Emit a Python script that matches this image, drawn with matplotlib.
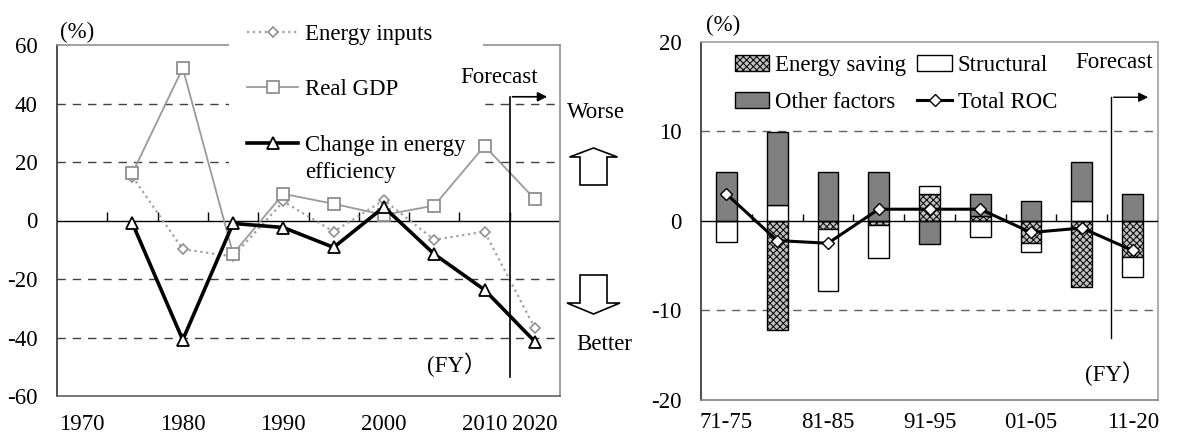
import numpy as np
import matplotlib
matplotlib.use("Agg")
import matplotlib.pyplot as plt
from matplotlib.patches import FancyArrow, Patch
from matplotlib.lines import Line2D

plt.rcParams['font.family'] = ['Liberation Serif', 'Noto Sans CJK JP']
plt.rcParams['hatch.linewidth'] = 0.7
FS = 16.5

# ---------------- data: left panel ----------------
years = ['1970', '1975', '1980', '1985', '1990', '1995', '2000', '2005', '2010', '2020']
year_labels = ['1970', '', '1980', '', '1990', '', '2000', '', '2010', '2020']
energy_inputs = [np.nan, 15.0, -9.8, -12.3, 6.5, -3.8, 7.0, -6.6, -3.8, -36.8]
real_gdp = [np.nan, 16.2, 52.1, -11.4, 9.1, 5.7, 1.9, 5.1, 25.5, 7.3]
efficiency = [np.nan, -1.0, -40.8, -1.0, -2.4, -9.2, 4.6, -11.5, -23.7, -41.4]

# ---------------- data: right panel ----------------
periods = ['71-75', '76-80', '81-85', '86-90', '91-95', '96-00', '01-05', '06-10', '11-20']
period_labels = ['71-75', '', '81-85', '', '91-95', '', '01-05', '', '11-20']
energy_saving = [0.0, -12.2, -0.9, -0.5, 3.0, 0.5, -2.5, -7.4, -4.0]
structural = [-2.4, 1.8, -6.9, -3.7, 0.9, -1.8, -1.0, 2.2, -2.3]
other_factors = [5.4, 8.1, 5.4, 5.4, -2.6, 2.5, 2.2, 4.4, 3.0]
total_roc = [3.0, -2.2, -2.5, 1.3, 1.3, 1.3, -1.3, -0.8, -3.3]

W, H = 1181, 441
fig = plt.figure(figsize=(W / 100, H / 100), dpi=100)

def px_rect(x0, y0, x1, y1):
    return [x0 / W, 1 - y1 / H, (x1 - x0) / W, (y1 - y0) / H]

HATCH_FC = '#c0c0c0'

# =============== LEFT PANEL ===============
ax = fig.add_axes(px_rect(57, 45, 560, 396))
x = np.arange(len(years))
ax.set_xlim(-0.5, len(years) - 0.5)
ax.set_ylim(-60, 60)
ax.set_yticks(np.arange(-60, 61, 20))
ax.set_yticklabels([str(v) for v in range(-60, 61, 20)], fontsize=FS)
ax.set_xticks(x)
ax.set_xticklabels(year_labels, fontsize=FS)
ax.tick_params(axis='both', length=0)
ax.tick_params(axis='x', pad=13)
ax.tick_params(axis='y', pad=14)
for v in [40, 20, -20, -40]:
    ax.axhline(v, color='#404040', lw=1, ls=(0, (6, 5)), zorder=1)
ax.axhline(0, color='black', lw=1, zorder=2)
ax.vlines(np.arange(0.5, len(years) - 1, 1), 0, 3, color='black', lw=1, zorder=2)
ax.spines['left'].set_color('#303030')
ax.spines['bottom'].set_color('#606060')
ax.spines['top'].set_color('#909090')
ax.spines['right'].set_color('#909090')
for s in ax.spines.values():
    s.set_linewidth(1.2)

ax.plot(x, energy_inputs, color='#a0a0a0', lw=1.6, ls=':', marker='D', ms=5.5,
        mfc='white', mec='#909090', mew=1.2, label='Energy inputs', zorder=3)
ax.plot(x, real_gdp, color='#9a9a9a', lw=1.3, marker='s', ms=9,
        mfc='white', mec='#909090', mew=1.3, label='Real GDP', zorder=3)
ax.plot(x, efficiency, color='black', lw=2.6, marker='^', ms=8,
        mfc='white', mec='black', mew=1.3, label='Change in energy', zorder=4)

leg = ax.legend(loc='upper left', bbox_to_anchor=(229 / W, 1 - 5.5 / H), bbox_transform=fig.transFigure,
                fontsize=FS, frameon=True, facecolor='white', edgecolor='none', framealpha=1,
                fancybox=False, borderpad=0.8, borderaxespad=0, handlelength=2.2,
                handletextpad=0.3, labelspacing=1.5)
leg.set_zorder(2.7)
ax.annotate('efficiency', xy=(0, 0), xycoords=leg.get_texts()[2], xytext=(0, -4.5),
            textcoords='offset points', va='top', ha='left', fontsize=FS, zorder=6)

# forecast marker
ax.plot([8.5, 8.5], [-53.5, 42.3], color='black', lw=1.2, zorder=4)
ax.annotate('', xy=(9.3, 42.3), xytext=(8.5, 42.3),
            arrowprops=dict(arrowstyle='-|>', color='black', lw=1.2, mutation_scale=14))
ax.text(8.29, 48.8, 'Forecast', fontsize=FS, ha='center', va='center', zorder=7)
ax.text(7.45, -49.3, '(FY）', fontsize=FS, ha='center', va='center')
fig.text(77 / W, 1 - 32 / H, '(%)', fontsize=FS, ha='center', va='center')

# Worse / Better with block arrows
fig.text(596 / W, 1 - 113 / H, 'Worse', fontsize=FS, ha='center', va='center')
fig.text(604 / W, 1 - 345 / H, 'Better', fontsize=FS, ha='center', va='center')
up = FancyArrow(593.5 / W, 1 - 185 / H, 0, (185 - 148) / H, width=27 / W,
                head_width=48 / W, head_length=9 / H, length_includes_head=True,
                transform=fig.transFigure, facecolor='white', edgecolor='black', lw=1.2)
dn = FancyArrow(593.5 / W, 1 - 275 / H, 0, -(314 - 275) / H, width=27 / W,
                head_width=53 / W, head_length=11 / H, length_includes_head=True,
                transform=fig.transFigure, facecolor='white', edgecolor='black', lw=1.2)
fig.add_artist(up)
fig.add_artist(dn)

# =============== RIGHT PANEL ===============
bx = fig.add_axes(px_rect(701, 41.7, 1158, 400))
xp = np.arange(len(periods))
bx.set_xlim(-0.5, len(periods) - 0.5)
bx.set_ylim(-20, 20)
bx.set_yticks([-20, -10, 0, 10, 20])
bx.set_yticklabels(['-20', '-10', '0', '10', '20'], fontsize=FS)
bx.set_xticks(xp)
bx.set_xticklabels(period_labels, fontsize=FS)
bx.tick_params(axis='both', length=0)
bx.tick_params(axis='x', pad=9)
bx.tick_params(axis='y', pad=14)
for v in [10, -10]:
    bx.axhline(v, color='#606060', lw=1, ls=(0, (6, 5)), zorder=1)
bx.spines['left'].set_color('#303030')
bx.spines['bottom'].set_color('#808080')
bx.spines['top'].set_color('#a0a0a0')
bx.spines['right'].set_color('#a0a0a0')
for s in bx.spines.values():
    s.set_linewidth(1.2)

series = [(energy_saving, dict(facecolor=HATCH_FC, hatch='xxxxx'), 'Energy saving'),
          (structural, dict(facecolor='white'), 'Structural'),
          (other_factors, dict(facecolor='#808080'), 'Other factors')]
pos_base = np.zeros(len(periods))
neg_base = np.zeros(len(periods))
bw = 0.41
for vals, style, lab in series:
    vals = np.array(vals)
    bottoms = np.where(vals >= 0, pos_base, neg_base)
    bx.bar(xp, vals, bw, bottom=bottoms, edgecolor='black', lw=1.0, zorder=3, **style)
    pos_base = pos_base + np.where(vals > 0, vals, 0)
    neg_base = neg_base + np.where(vals < 0, vals, 0)

bx.axhline(0, color='black', lw=1, zorder=4)
bx.vlines(np.arange(0.5, len(periods) - 1, 1), 0, 0.8, color='black', lw=1, zorder=4)
bx.plot(xp, total_roc, color='black', lw=2.2, marker='D', ms=6, mfc='white',
        mec='black', mew=1.0, zorder=5)

bx.plot([7.57, 7.57], [-13.1, 13.8], color='black', lw=1.0, zorder=5)
bx.annotate('', xy=(8.36, 13.8), xytext=(7.57, 13.8),
            arrowprops=dict(arrowstyle='-|>', color='black', lw=1.0, mutation_scale=14))
bx.text(8.4, 17.7, 'Forecast', fontsize=FS, ha='right', va='center')
bx.text(7.65, -17.1, '(FY）', fontsize=FS, ha='center', va='center')
fig.text(723 / W, 1 - 25 / H, '(%)', fontsize=FS, ha='center', va='center')

handles = [Patch(facecolor=HATCH_FC, hatch='xxxxx', edgecolor='black', lw=1.0),
           Patch(facecolor='#808080', edgecolor='black', lw=1.0),
           Patch(facecolor='white', edgecolor='black', lw=1.0),
           Line2D([], [], color='black', lw=2.2, marker='D', ms=6, mfc='white', mec='black')]
labels = ['Energy saving', 'Other factors', 'Structural', 'Total ROC']
bx.legend(handles, labels, ncol=2, loc='upper left', bbox_to_anchor=(0.054, 0.988),
          fontsize=FS, frameon=False, borderaxespad=0, handlelength=1.5,
          handleheight=0.65, handletextpad=0.25, columnspacing=0.5, labelspacing=0.69)

fig.savefig('out.png', dpi=100)
